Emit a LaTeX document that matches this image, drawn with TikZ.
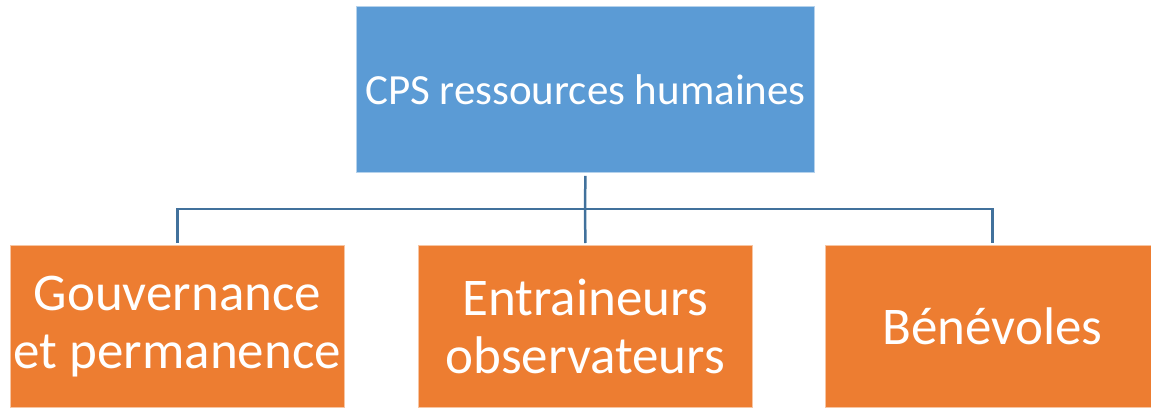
\documentclass[tikz,border=0pt]{standalone}
\usepackage{fontspec}
\setmainfont{Carlito}
\definecolor{topblue}{HTML}{5B9BD5}
\definecolor{boxorange}{HTML}{ED7D31}
\definecolor{linkblue}{HTML}{41719C}
\begin{document}
\begin{tikzpicture}[x=1pt,y=-1pt,
  topbox/.style={fill=topblue,draw=white!55!topblue,line width=0.8pt,minimum width=458pt,minimum height=166pt,inner sep=0pt,text=white,font=\fontsize{43}{50}\selectfont,anchor=north west},
  childbox/.style={fill=boxorange,draw=white!55!boxorange,line width=0.8pt,minimum width=334pt,minimum height=162pt,inner sep=0pt,text=white,font=\fontsize{53}{58}\selectfont,align=center,anchor=north west},
  link/.style={draw=linkblue,line width=2.5pt}]
\useasboundingbox (0,0) rectangle (1151,407);
\node[topbox] (top) at (356,6) {CPS ressources humaines};
\node[childbox] (gov) at (10,245) {Gouvernance\\et permanence};
\node[childbox] (ent) at (418,245) {Entraineurs\\observateurs};
\node[childbox] (ben) at (825,245) {Bénévoles};
\coordinate (hub) at (585,209);
\draw[link] ([yshift=-3pt]top.south) -- (hub);
\draw[link] ([yshift=2pt]gov.north) |- (hub) -| ([yshift=2pt]ben.north);
\draw[link] (hub) -- ([yshift=2pt]ent.north);
\end{tikzpicture}
\end{document}
